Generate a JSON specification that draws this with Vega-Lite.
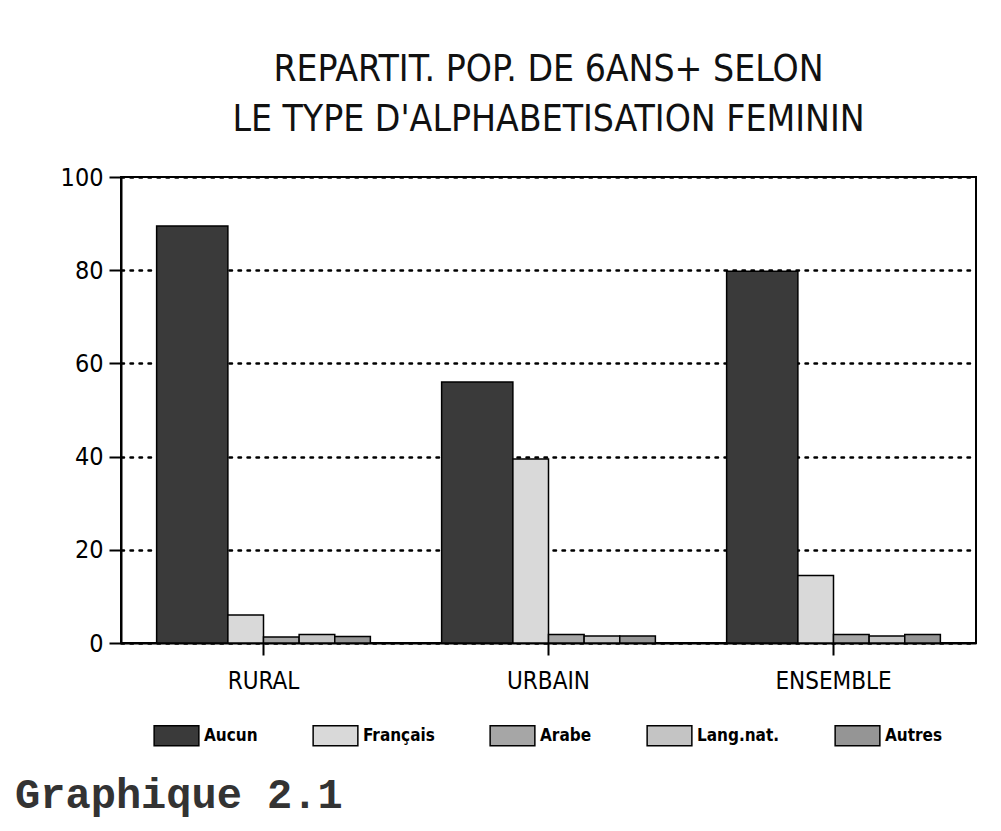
{
  "$schema": "https://vega.github.io/schema/vega-lite/v6.json",
  "background": "white",
  "autosize": {"type": "pad"},
  "padding": {"left": 15, "top": 50, "right": 20, "bottom": 5},
  "title": {
    "text": "Graphique 2.1",
    "orient": "bottom",
    "anchor": "start",
    "font": "Liberation Mono",
    "fontSize": 42,
    "fontWeight": "bold",
    "color": "#333333",
    "dx": -44,
    "offset": -6
  },
  "config": {
    "font": "DejaVu Sans Condensed, Liberation Sans Narrow, sans-serif",
    "view": {"stroke": "black", "strokeWidth": 2},
    "axis": {
      "domainColor": "black",
      "domainWidth": 2,
      "tickColor": "black",
      "tickWidth": 2,
      "tickSize": 12,
      "labelColor": "black",
      "labelFont": "DejaVu Sans Condensed, Liberation Sans Narrow, sans-serif"
    },
    "concat": {"spacing": 0}
  },
  "vconcat": [
    {
      "width": 855,
      "height": 466,
      "title": {
        "text": ["REPARTIT. POP. DE 6ANS+ SELON", "LE TYPE D'ALPHABETISATION FEMININ"],
        "font": "DejaVu Sans Condensed, Liberation Sans Narrow, sans-serif",
        "fontSize": 37,
        "fontWeight": "normal",
        "lineHeight": 50,
        "color": "#111111",
        "anchor": "middle",
        "offset": 26
      },
      "data": {
        "values": [
          {"zone": "RURAL", "type": "Aucun", "pct": 89.5},
          {"zone": "RURAL", "type": "Français", "pct": 6.0},
          {"zone": "RURAL", "type": "Arabe", "pct": 1.3},
          {"zone": "RURAL", "type": "Lang.nat.", "pct": 1.8},
          {"zone": "RURAL", "type": "Autres", "pct": 1.4},
          {"zone": "URBAIN", "type": "Aucun", "pct": 56.0},
          {"zone": "URBAIN", "type": "Français", "pct": 39.5},
          {"zone": "URBAIN", "type": "Arabe", "pct": 1.8},
          {"zone": "URBAIN", "type": "Lang.nat.", "pct": 1.5},
          {"zone": "URBAIN", "type": "Autres", "pct": 1.5},
          {"zone": "ENSEMBLE", "type": "Aucun", "pct": 79.8},
          {"zone": "ENSEMBLE", "type": "Français", "pct": 14.5},
          {"zone": "ENSEMBLE", "type": "Arabe", "pct": 1.8},
          {"zone": "ENSEMBLE", "type": "Lang.nat.", "pct": 1.5},
          {"zone": "ENSEMBLE", "type": "Autres", "pct": 1.8}
        ]
      },
      "layer": [
        {
          "transform": [{"filter": "datum.type === 'Aucun'"}],
          "mark": {"type": "bar", "stroke": "black", "strokeWidth": 1.5, "opacity": 1},
          "encoding": {
            "x": {
              "field": "zone", "type": "nominal",
              "sort": ["RURAL", "URBAIN", "ENSEMBLE"],
              "scale": {"paddingInner": 0.25, "paddingOuter": 0.125},
              "axis": {"title": null, "labelAngle": 0, "labelFontSize": 24, "labelPadding": 14, "grid": false}
            },
            "xOffset": {
              "field": "type", "type": "nominal",
              "scale": {"domain": ["Aucun", "_1", "_2"], "paddingInner": 0, "paddingOuter": 0}
            },
            "y": {
              "field": "pct", "type": "quantitative",
              "scale": {"domain": [0, 100], "nice": false},
              "axis": {
                "title": null, "values": [0, 20, 40, 60, 80, 100],
                "labelFontSize": 25, "labelPadding": 6,
                "grid": true, "gridColor": "black", "gridOpacity": 1,
                "gridWidth": 2.5, "gridDash": [2.5, 6.5], "gridCap": "round"
              }
            },
            "color": {
              "field": "type", "type": "nominal",
              "scale": {
                "domain": ["Aucun", "Français", "Arabe", "Lang.nat.", "Autres"],
                "range": ["#3a3a3a", "#d9d9d9", "#a6a6a6", "#c4c4c4", "#959595"]
              },
              "legend": {
                "orient": "bottom", "direction": "horizontal", "columns": 5,
                "title": null,
                "symbolType": "M-1,-0.45H1V0.45H-1Z",
                "symbolSize": 2000,
                "symbolStrokeColor": "black", "symbolStrokeWidth": 1.5,
                "symbolOpacity": 1,
                "labelFontSize": 17, "labelFontWeight": "bold", "labelColor": "black",
                "columnPadding": 52, "padding": 32, "offset": -14
              }
            }
          }
        },
        {
          "transform": [{"filter": "datum.type !== 'Aucun'"}],
          "mark": {"type": "bar", "stroke": "black", "strokeWidth": 1.5, "opacity": 1},
          "encoding": {
            "x": {
              "field": "zone", "type": "nominal",
              "sort": ["RURAL", "URBAIN", "ENSEMBLE"],
              "scale": {"paddingInner": 0.25, "paddingOuter": 0.125},
              "axis": {"title": null, "labelAngle": 0, "labelFontSize": 24, "labelPadding": 14, "grid": false}
            },
            "xOffset": {
              "field": "type", "type": "nominal",
              "scale": {"domain": ["_a", "_b", "Français", "Arabe", "Lang.nat.", "Autres"], "paddingInner": 0, "paddingOuter": 0}
            },
            "y": {"field": "pct", "type": "quantitative"},
            "color": {
              "field": "type", "type": "nominal",
              "scale": {
                "domain": ["Aucun", "Français", "Arabe", "Lang.nat.", "Autres"],
                "range": ["#3a3a3a", "#d9d9d9", "#a6a6a6", "#c4c4c4", "#959595"]
              }
            }
          }
        }
      ],
      "resolve": {"scale": {"xOffset": "independent"}}
    }
  ]
}
